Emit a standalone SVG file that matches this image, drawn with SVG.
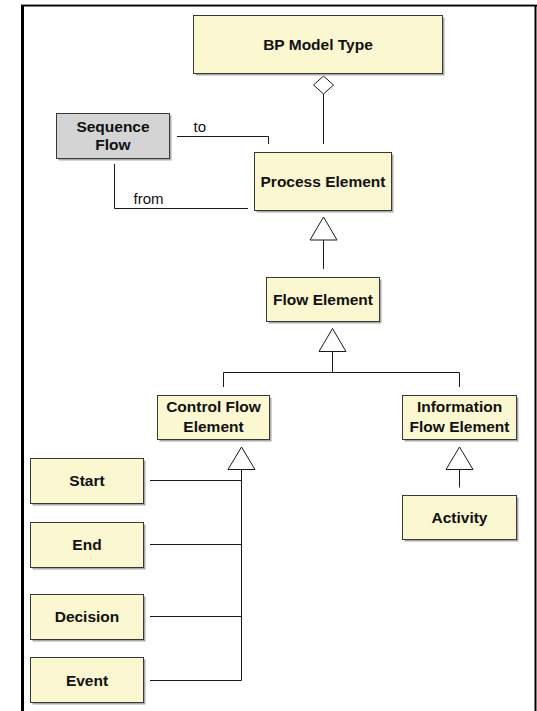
<svg xmlns="http://www.w3.org/2000/svg" width="537" height="711" viewBox="0 0 537 711">
  <style>
    .box { fill: #fbf7d0; stroke: #383838; stroke-width: 1; }
    .box.gray { fill: #d4d4d4; }
    .shadow { fill: #a9a9a9; }
    .lbl { font-family: "Liberation Sans", Arial, sans-serif; font-size: 15.5px; font-weight: bold; fill: #111; text-anchor: middle; }
    .role { font-family: "Liberation Sans", Arial, sans-serif; font-size: 15px; fill: #111; }
    .wire { fill: none; stroke: #1a1a1a; stroke-width: 1; }
    .head { fill: #ffffff; stroke: #1a1a1a; stroke-width: 1; }
  </style>
  <rect width="537" height="711" fill="#ffffff"/>

  <!-- outer frame -->
  <g id="frame">
    <line x1="21" y1="4.5" x2="537" y2="4.5" stroke="#9a9a9a" stroke-width="1"/>
    <line x1="21" y1="5.75" x2="537" y2="5.75" stroke="#000" stroke-width="1.5"/>
    <line x1="22.5" y1="5" x2="22.5" y2="711" stroke="#000" stroke-width="3"/>
    <line x1="535.5" y1="5" x2="535.5" y2="711" stroke="#000" stroke-width="2"/>
  </g>

  <!-- connectors -->
  <g id="connectors">
    <!-- aggregation: BP Model Type <>- Process Element -->
    <line class="wire" x1="323.5" y1="94" x2="323.5" y2="144"/>
    <polygon class="head" points="323.5,76 333.5,85 323.5,94 313.5,85"/>

    <!-- Sequence Flow associations -->
    <path class="wire" d="M177,136.5 H268.5 V144"/>
    <text class="role" x="193.5" y="131.5">to</text>
    <path class="wire" d="M114.5,164 V208.5 H248"/>
    <text class="role" x="133.5" y="203.5">from</text>

    <!-- Flow Element -> Process Element -->
    <line class="wire" x1="323.5" y1="240" x2="323.5" y2="269"/>
    <polygon class="head" points="323.5,217 337,240 310,240"/>

    <!-- Control / Information Flow Element -> Flow Element -->
    <path class="wire" d="M332.5,351.5 V372.5 M223.5,387 V372.5 H459.5 V387"/>
    <polygon class="head" points="332.5,328.5 346,351.5 319,351.5"/>

    <!-- Start / End / Decision / Event -> Control Flow Element -->
    <path class="wire" d="M241.5,469.5 V680.5 M150,480.5 H241.5 M150,544.5 H241.5 M150,616.5 H241.5 M150,680.5 H241.5"/>
    <polygon class="head" points="241.5,447 255,469.5 228,469.5"/>

    <!-- Activity -> Information Flow Element -->
    <line class="wire" x1="459.5" y1="469.5" x2="459.5" y2="487.5"/>
    <polygon class="head" points="459.5,447 473,469.5 446,469.5"/>
  </g>

  <!-- nodes -->
  <g id="bp-model-type">
    <rect class="shadow" x="195.5" y="17.5" width="249" height="58"/>
    <rect class="box" x="193.5" y="15.5" width="249" height="58"/>
    <text class="lbl" x="318" y="49.5">BP Model Type</text>
  </g>

  <g id="sequence-flow">
    <rect class="shadow" x="58.5" y="115.5" width="113" height="45"/>
    <rect class="box gray" x="56.5" y="113.5" width="113" height="45"/>
    <text class="lbl" x="113" y="131.5">Sequence</text>
    <text class="lbl" x="113" y="150">Flow</text>
  </g>

  <g id="process-element">
    <rect class="shadow" x="256.5" y="154.5" width="137" height="58"/>
    <rect class="box" x="254.5" y="152.5" width="137" height="58"/>
    <text class="lbl" x="323" y="186.5">Process Element</text>
  </g>

  <g id="flow-element">
    <rect class="shadow" x="268.5" y="279.5" width="113" height="44"/>
    <rect class="box" x="266.5" y="277.5" width="113" height="44"/>
    <text class="lbl" x="323" y="305">Flow Element</text>
  </g>

  <g id="control-flow-element">
    <rect class="shadow" x="159.5" y="397.5" width="112" height="44"/>
    <rect class="box" x="157.5" y="395.5" width="112" height="44"/>
    <text class="lbl" x="213.5" y="412">Control Flow</text>
    <text class="lbl" x="213.5" y="432">Element</text>
  </g>

  <g id="information-flow-element">
    <rect class="shadow" x="404.5" y="397.5" width="114" height="44"/>
    <rect class="box" x="402.5" y="395.5" width="114" height="44"/>
    <text class="lbl" x="459.5" y="412">Information</text>
    <text class="lbl" x="459.5" y="432">Flow Element</text>
  </g>

  <g id="activity">
    <rect class="shadow" x="404.5" y="497.5" width="114" height="44"/>
    <rect class="box" x="402.5" y="495.5" width="114" height="44"/>
    <text class="lbl" x="459.5" y="522.5">Activity</text>
  </g>

  <g id="start">
    <rect class="shadow" x="32.5" y="460.5" width="113" height="45"/>
    <rect class="box" x="30.5" y="458.5" width="113" height="45"/>
    <text class="lbl" x="87" y="486">Start</text>
  </g>

  <g id="end">
    <rect class="shadow" x="32.5" y="524.5" width="113" height="45"/>
    <rect class="box" x="30.5" y="522.5" width="113" height="45"/>
    <text class="lbl" x="87" y="550">End</text>
  </g>

  <g id="decision">
    <rect class="shadow" x="32.5" y="596.5" width="113" height="45"/>
    <rect class="box" x="30.5" y="594.5" width="113" height="45"/>
    <text class="lbl" x="87" y="622">Decision</text>
  </g>

  <g id="event">
    <rect class="shadow" x="32.5" y="659.5" width="113" height="45"/>
    <rect class="box" x="30.5" y="657.5" width="113" height="45"/>
    <text class="lbl" x="87" y="685.5">Event</text>
  </g>
</svg>
